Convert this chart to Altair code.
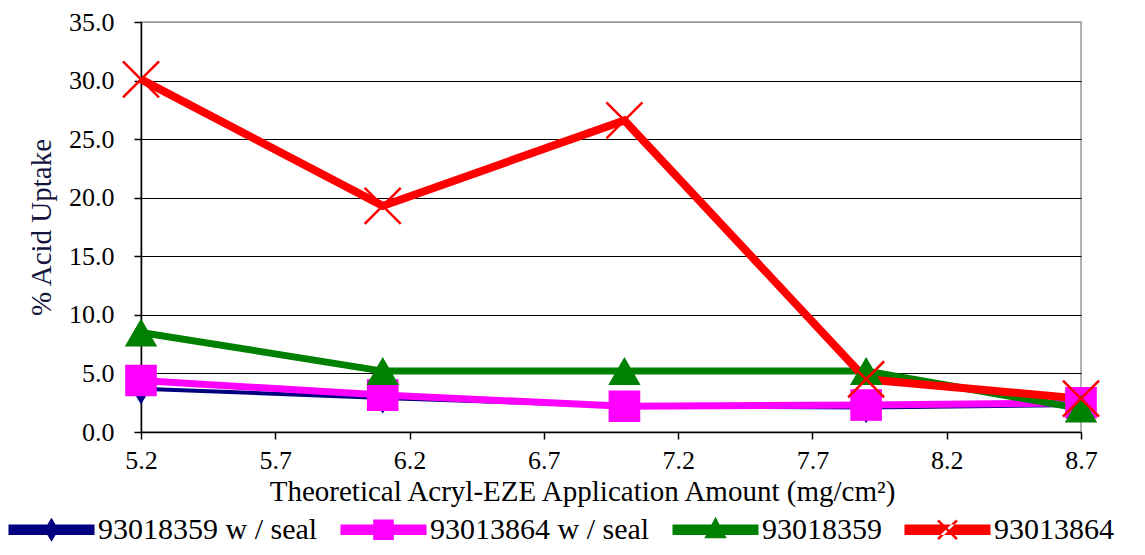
import altair as alt
import pandas as pd

# ---------------- data ----------------
series = ["93018359 w / seal", "93013864 w / seal", "93018359", "93013864"]
x_vals = [5.2, 6.1, 7.0, 7.9, 8.7]
navy_vals = [3.7, 2.9, 2.2, 2.1, 2.3]
magenta_vals = [4.4, 3.15, 2.2, 2.3, 2.5]
green_vals = [8.5, 5.2, 5.2, 5.2, 2.0]
red_vals = [30.1, 19.3, 26.6, 4.5, 2.85]
x_ticks = [5.2, 5.7, 6.2, 6.7, 7.2, 7.7, 8.2, 8.7]
y_ticks = [0, 5, 10, 15, 20, 25, 30, 35]

x_title = "Theoretical Acryl-EZE Application Amount (mg/cm²)"
y_title = "% Acid Uptake"

# ---------------- styles ----------------
colors = ["#000080", "#FF00FF", "#008000", "#FF0000"]
line_widths = [4, 7, 7, 8]
FONT = "'Liberation Serif', 'Times New Roman', Times, serif"

marker_shapes = [
    "M0,-1L0.6,0L0,1L-0.6,0Z",
    "square",
    "triangle-up",
    "M-1,-1L1,1M-1,1L1,-1",
]
marker_sizes = [1000, 1000, 1050, 1300]
marker_filled = [True, True, True, False]

# legend symbols: thick line segment + marker (path in [-1,1] box)
seg = "M-1,-0.12L1,-0.12L1,0.12L-1,0.12Z"
legend_paths = [
    seg + "M0,-0.28L0.17,0L0,0.28L-0.17,0Z",
    seg + "M-0.24,-0.24L0.24,-0.24L0.24,0.24L-0.24,0.24Z",
    seg + "M0,-0.3L0.26,0.2L-0.26,0.2Z",
    seg + "M-0.199,-0.241L0.241,0.199L0.199,0.241L-0.241,-0.199Z"
          "M-0.199,0.241L0.241,-0.199L0.199,-0.241L-0.241,0.199Z",
]

all_vals = [navy_vals, magenta_vals, green_vals, red_vals]
rows = []
for s, vals in zip(series, all_vals):
    for xv, yv in zip(x_vals, vals):
        rows.append({"series": s, "x": xv, "y": yv})
df = pd.DataFrame(rows)

x_enc = alt.X(
    "x:Q",
    scale=alt.Scale(domain=[5.2, 8.7], nice=False, zero=False),
    axis=alt.Axis(
        values=x_ticks, format=".1f", title=x_title, grid=False,
        domainColor="black", domainWidth=1.5, tickColor="black", tickWidth=1.5,
        tickSize=7, labelFont=FONT, labelFontSize=26, labelColor="black",
        labelPadding=8, labelFlush=False, titleFont=FONT, titleFontSize=29,
        titleFontWeight="normal", titleColor="black", titlePadding=4,
        titleX=441,
    ),
)
y_enc = alt.Y(
    "y:Q",
    scale=alt.Scale(domain=[0, 35], nice=False, zero=True),
    axis=alt.Axis(
        values=y_ticks, format=".1f", title=y_title, grid=True,
        gridColor={"condition": {"test": "datum.value >= 35", "value": "#999999"}, "value": "black"},
        gridWidth=1.2,
        domainColor="black", domainWidth=1.5, tickColor="black", tickWidth=1.5,
        tickSize=7, labelFont=FONT, labelFontSize=26, labelColor="black",
        labelPadding=20, titleFont=FONT, titleFontSize=29,
        titleFontWeight="normal", titleColor="#141440", titlePadding=12,
    ),
)

base = alt.Chart(df)
layers = []
for i, s in enumerate(series):
    layers.append(
        base.transform_filter(alt.datum.series == s)
        .mark_line(color=colors[i], strokeWidth=line_widths[i])
        .encode(x=x_enc if i == 0 else "x:Q", y=y_enc if i == 0 else "y:Q")
    )
for i, s in enumerate(series):
    if marker_filled[i]:
        mk = dict(shape=marker_shapes[i], size=marker_sizes[i],
                  filled=True, color=colors[i], opacity=1, strokeWidth=0)
    else:
        mk = dict(shape=marker_shapes[i], size=marker_sizes[i],
                  filled=False, color=colors[i], opacity=1, strokeWidth=2.5)
    layers.append(
        base.transform_filter(alt.datum.series == s)
        .mark_point(**mk)
        .encode(x="x:Q", y="y:Q")
    )

legend_df = pd.DataFrame({"series": series})
legend_layer = (
    alt.Chart(legend_df)
    .transform_filter("false")
    .mark_point(filled=True, opacity=1)
    .encode(
        color=alt.Color(
            "series:N",
            scale=alt.Scale(domain=series, range=colors),
            legend=alt.Legend(
                title=None, orient="none", direction="horizontal",
                legendX=-133, legendY=464, labelFont=FONT, labelFontSize=30,
                labelColor="black", symbolSize=7400, symbolStrokeWidth=0,
                symbolOpacity=1, labelOffset=3, columnPadding=22, columns=4,
                padding=0, labelLimit=400,
            ),
        ),
        shape=alt.Shape(
            "series:N",
            scale=alt.Scale(domain=series, range=legend_paths),
        ),
    )
)
layers.append(legend_layer)

chart = (
    alt.layer(*layers)
    .properties(
        width=940, height=410,
        autosize=alt.AutoSizeParams(type="none"),
        padding={"left": 133, "top": 14, "right": 56, "bottom": 115},
    )
    .configure(background="white", font=FONT)
    .configure_view(stroke="#999999", strokeWidth=1.5)
)

chart.save("out.html", embed_options={"renderer": "svg", "actions": False})
